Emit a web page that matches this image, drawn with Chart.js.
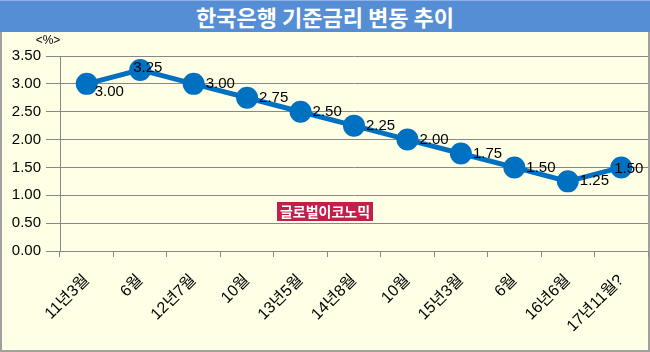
<!DOCTYPE html>
<html>
<head>
<meta charset="utf-8">
<script src="https://cdn.jsdelivr.net/npm/chart.js@4"></script>
<style>
  html, body { margin: 0; padding: 0; }
  body { width: 650px; height: 352px; position: relative; overflow: hidden; background: #ffffe6;
         font-family: "Liberation Sans", "Noto Sans CJK KR", sans-serif; }
  #title { position: absolute; left: 0; top: 0; width: 650px; height: 32px; background: #558ed5;
           color: #fff; font: bold 22px "Noto Sans CJK KR", sans-serif; text-align: center; line-height: 31px;
           border-top: 1px solid #8fb3e6; box-sizing: border-box; }
  #box { position: absolute; left: 0; top: 32px; width: 650px; height: 320px; box-sizing: border-box;
         border-left: 2px solid #a0a0a0; border-right: 2px solid #a0a0a0; border-bottom: 2px solid #a0a0a0; }
  #wrap { position: absolute; left: 0; top: 32px; width: 650px; height: 320px; }
  #mark { position: absolute; left: 277px; top: 202px; width: 96px; height: 19px; background: #c41e4a;
          color: #fff; font: bold 14px "Noto Sans CJK KR", sans-serif; text-align: center; line-height: 19px; }
</style>
</head>
<body>
<div id="title">한국은행 기준금리 변동 추이</div>
<div id="box"></div>
<div id="wrap"><canvas id="rateChart" width="650" height="320"></canvas></div>
<div id="mark">글로벌이코노믹</div>
<script>
// --- data ---
const categories = ['11년3월', '6월', '12년7월', '10월', '13년5월', '14년8월', '10월', '15년3월', '6월', '16년6월', '17년11월?'];
const rates = [3.00, 3.25, 3.00, 2.75, 2.50, 2.25, 2.00, 1.75, 1.50, 1.25, 1.50];
const yTicks = [0, 0.5, 1, 1.5, 2, 2.5, 3, 3.5];

const baseFont = '"Liberation Sans", "Noto Sans CJK KR", sans-serif';

// value labels like Excel's "right" position (a few nudged where they collide)
const valueLabels = {
    id: 'valueLabels',
    afterDatasetsDraw(chart) {
        const ctx = chart.ctx;
        const meta = chart.getDatasetMeta(0);
        const last = meta.data.length - 1;
        ctx.save();
        ctx.font = '15px ' + baseFont;
        ctx.fillStyle = '#000';
        ctx.textAlign = 'left';
        ctx.textBaseline = 'middle';
        meta.data.forEach((pt, i) => {
            let dx = 12, dy = 0;
            if (i === 0) { dx = 8; dy = 8; }
            if (i === 1) { dx = -7; dy = -2; }
            if (i === last) { dx = -7; dy = 1; }
            ctx.fillText(rates[i].toFixed(2), pt.x + dx, pt.y + dy);
        });
        // unit mark above the y axis
        ctx.font = '12px ' + baseFont;
        ctx.textAlign = 'center';
        ctx.fillText('<%>', chart.chartArea.left - 12, chart.chartArea.top - 15);
        ctx.restore();
    }
};

const ctxRate = document.getElementById('rateChart').getContext('2d');
new Chart(ctxRate, {
    type: 'line',
    data: {
        labels: categories,
        datasets: [{
            data: rates,
            borderColor: '#0070c0',
            backgroundColor: '#0070c0',
            borderWidth: 5,
            pointRadius: 8.5,
            pointHoverRadius: 8.5,
            pointBackgroundColor: '#0070c0',
            pointBorderColor: '#0070c0',
            tension: 0,
            fill: false
        }]
    },
    options: {
        responsive: false,
        animation: false,
        events: [],
        layout: { autoPadding: false, padding: { top: 24, right: 2, left: 0, bottom: 0 } },
        plugins: {
            legend: { display: false },
            tooltip: { enabled: false }
        },
        scales: {
            y: {
                min: 0, max: 3.5,
                afterFit: s => { s.width = 60; },
                afterBuildTicks: s => { s.ticks = yTicks.map(v => ({ value: v })); },
                grid: { color: '#888', lineWidth: 1, tickLength: 14 },
                border: { color: '#888' },
                ticks: { color: '#000', font: { size: 15, family: baseFont }, padding: 5,
                         callback: v => v.toFixed(2) }
            },
            x: {
                offset: true,
                afterFit: s => { s.height = 101; s.paddingRight = 0; s.paddingLeft = 0; },
                grid: { offset: true, drawOnChartArea: false, drawTicks: true, tickLength: 6, color: '#888' },
                border: { color: '#888' },
                ticks: { color: '#000', font: { size: 16, family: baseFont }, minRotation: 45, maxRotation: 45, padding: 14, autoSkip: false }
            }
        }
    },
    plugins: [valueLabels]
});
</script>
</body>
</html>
